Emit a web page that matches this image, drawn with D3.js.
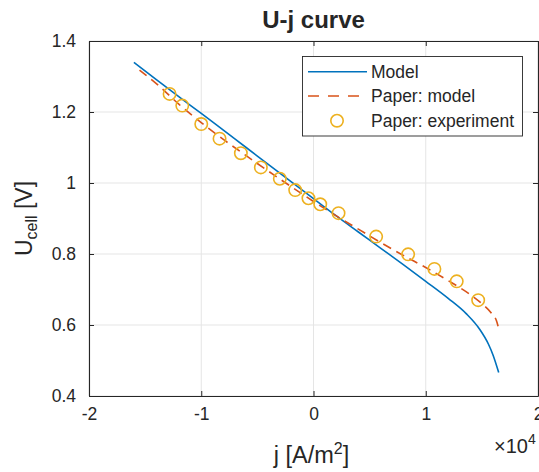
<!DOCTYPE html>
<html><head><meta charset="utf-8">
<script src="https://cdn.jsdelivr.net/npm/d3@7/dist/d3.min.js"></script>
<style>
body{margin:0;background:#fff}
text{font-family:"Liberation Sans",Arial,Helvetica,sans-serif;fill:#262626}
</style>
</head><body>
<svg id="chart" width="539" height="472"></svg>
<script>
// ---- data (j in A/m^2, U in V) ----
const modelJ = [-16000,-14000,-12000,-10000,-8000,-6000,-4000,-2000,0,2000,4000,6000,8000,10000,12000,13600,14800,15600,16000,16500];
const modelU = [1.340,1.291,1.243,1.196,1.148,1.100,1.052,1.004,0.956,0.908,0.862,0.816,0.770,0.723,0.675,0.632,0.588,0.545,0.515,0.466];

const paperModelJ = [-15500,-14000,-12000,-10000,-8000,-6000,-4000,-2000,0,2000,4000,6000,8000,10000,12000,14000,15000,15800,16300,16500];
const paperModelU = [1.318,1.280,1.222,1.170,1.122,1.077,1.033,0.990,0.948,0.908,0.870,0.832,0.796,0.762,0.725,0.685,0.660,0.635,0.612,0.590];

const expJ = [-12820,-11690,-10000,-8370,-6470,-4690,-3000,-1630,-450,600,2230,5580,8430,10770,12760,14670];
const expU = [1.251,1.218,1.166,1.125,1.084,1.044,1.012,0.980,0.957,0.940,0.915,0.849,0.799,0.758,0.723,0.670];

const xTicks = [-20000,-10000,0,10000,20000];
const yTicks = [0.4,0.6,0.8,1.0,1.2,1.4];
const legendLabels = ["Model","Paper: model","Paper: experiment"];
const colors = {model:"#0072BD", paper:"#D95319", exp:"#EDB120"};

// ---- layout ----
const L=89, R=538, T=41, B=396;
const svg = d3.select("#chart");
const x = d3.scaleLinear().domain([-20000,20000]).range([L,R]);
const y = d3.scaleLinear().domain([0.4,1.4]).range([B,T]);

// grid
const g = svg.append("g");
g.selectAll(".gx").data(xTicks).join("line")
  .attr("x1",d=>x(d)).attr("x2",d=>x(d)).attr("y1",T).attr("y2",B)
  .attr("stroke","#e5e5e5").attr("stroke-width",1);
g.selectAll(".gy").data(yTicks).join("line")
  .attr("y1",d=>y(d)).attr("y2",d=>y(d)).attr("x1",L).attr("x2",R)
  .attr("stroke","#e5e5e5").attr("stroke-width",1);

// axes
const fmtX = d => String(d/10000);
const fmtY = d => (d===1? "1" : d.toFixed(1));
const ax = svg.append("g").attr("transform",`translate(0,${B})`)
  .call(d3.axisBottom(x).tickValues(xTicks).tickFormat(fmtX).tickSizeInner(-5).tickSizeOuter(0).tickPadding(12));
const axTop = svg.append("g").attr("transform",`translate(0,${T})`)
  .call(d3.axisTop(x).tickValues(xTicks).tickFormat("").tickSizeInner(-5).tickSizeOuter(0));
const ay = svg.append("g").attr("transform",`translate(${L},0)`)
  .call(d3.axisLeft(y).tickValues(yTicks).tickFormat(fmtY).tickSizeInner(-5).tickSizeOuter(0).tickPadding(13));
const ayR = svg.append("g").attr("transform",`translate(${R},0)`)
  .call(d3.axisRight(y).tickValues(yTicks).tickFormat("").tickSizeInner(-5).tickSizeOuter(0));
[ax,axTop,ay,ayR].forEach(a=>{
  a.select(".domain").attr("stroke","#262626").attr("stroke-width",1.1);
  a.selectAll(".tick line").attr("stroke","#262626");
  a.selectAll("text").attr("font-size",17.5).attr("fill","#262626")
   .attr("font-family","Liberation Sans, Arial, sans-serif");
});

// lines
const line = d3.line().x(d=>x(d[0])).y(d=>y(d[1])).curve(d3.curveMonotoneX);
svg.append("path").datum(modelJ.map((j,i)=>[j,modelU[i]]))
  .attr("d",line).attr("fill","none").attr("stroke",colors.model).attr("stroke-width",1.6);
svg.append("path").datum(paperModelJ.map((j,i)=>[j,paperModelU[i]]))
  .attr("d",line).attr("fill","none").attr("stroke",colors.paper).attr("stroke-width",1.6)
  .attr("stroke-dasharray","9,6");
svg.selectAll(".exp").data(expJ.map((j,i)=>[j,expU[i]])).join("circle")
  .attr("cx",d=>x(d[0])).attr("cy",d=>y(d[1])).attr("r",6.2)
  .attr("fill","none").attr("stroke",colors.exp).attr("stroke-width",1.6);

// title
svg.append("text").attr("x",(L+R)/2).attr("y",27.5).attr("text-anchor","middle")
  .attr("font-size",24).attr("font-weight","bold").attr("fill","#000").text("U-j curve");

// x label
const xl = svg.append("text").attr("x",(L+R)/2-2).attr("y",463).attr("text-anchor","middle")
  .attr("font-size",23.5);
xl.append("tspan").text("j [A/m");
xl.append("tspan").attr("font-size",16).attr("dy",-9).text("2");
xl.append("tspan").attr("dy",9).text("]");

// multiplier
const mult = svg.append("text").attr("x",494).attr("y",453).attr("font-size",20);
mult.append("tspan").text("\u00D710");
mult.append("tspan").attr("font-size",14).attr("dy",-9).text("4");

// y label
const yl = svg.append("text").attr("transform",`translate(32,${(T+B)/2}) rotate(-90)`)
  .attr("text-anchor","middle").attr("font-size",23);
yl.append("tspan").text("U");
yl.append("tspan").attr("font-size",16).attr("dy",5).text("cell");
yl.append("tspan").attr("dy",-5).text(" [V]");

// legend
const lg = svg.append("g");
lg.append("rect").attr("x",302.5).attr("y",56.5).attr("width",220).attr("height",79.5)
  .attr("fill","#fff").attr("stroke","#262626").attr("stroke-width",0.9);
const rows = [71.7,96,120.7];
lg.append("line").attr("x1",308).attr("x2",367).attr("y1",rows[0]).attr("y2",rows[0])
  .attr("stroke",colors.model).attr("stroke-width",1.6);
lg.append("line").attr("x1",308).attr("x2",367).attr("y1",rows[1]).attr("y2",rows[1])
  .attr("stroke",colors.paper).attr("stroke-width",1.6).attr("stroke-dasharray","11,9");
lg.append("circle").attr("cx",337).attr("cy",rows[2]).attr("r",6.2)
  .attr("fill","none").attr("stroke",colors.exp).attr("stroke-width",1.6);
lg.selectAll(".lt").data(legendLabels).join("text")
  .attr("x",371).attr("y",(d,i)=>rows[i]+6.3).attr("font-size",17.5).attr("fill","#000").text(d=>d);
</script>
</body></html>
